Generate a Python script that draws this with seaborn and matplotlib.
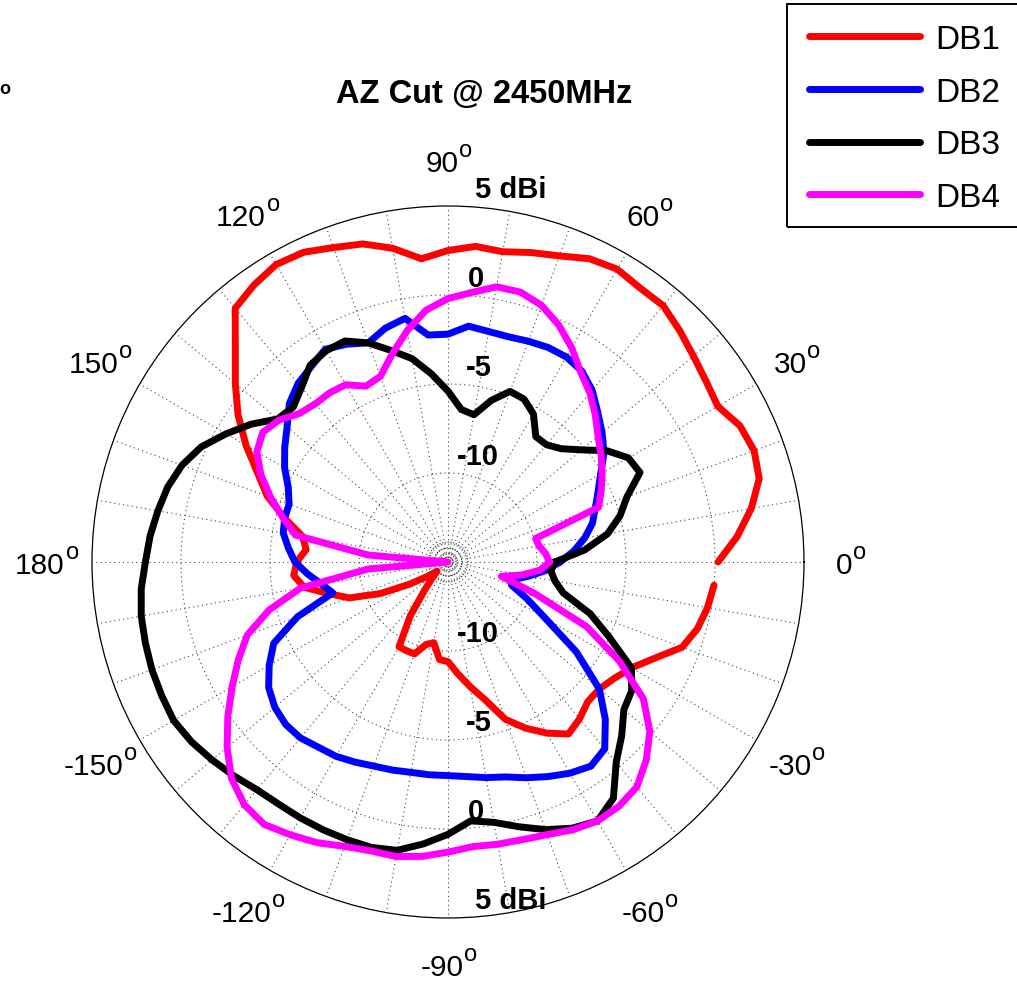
import numpy as np
import pandas as pd
import matplotlib
matplotlib.use("Agg")
import matplotlib.pyplot as plt
from matplotlib.lines import Line2D
from matplotlib.patches import Rectangle
import seaborn as sns

# Azimuth cut, gain in dBi sampled every 5 degrees (0 .. 355)
angles_deg = np.arange(0, 360, 5)

db1 = [0.17, 1.3, 2.3, 3.1, 3.3, 3.1, 2.5, 2.7, 3.0, 3.4,
       3.8, 3.8, 4.0, 3.8, 3.3, 3.0, 2.7, 2.8, 2.5, 2.1,
       2.9, 3.5, 3.8, 4.2, 4.3, 4.0, 3.6, 1.9, 0.6, -0.6,
       -1.9, -3.2, -4.2, -5.5, -6.7, -7.0, -6.5, -6.3, -6.8, -8.1,
       -9.1, -10.8, -12.5, -13.6, -14.2, -13.8, -13.0, -11.3, -9.5, -9.5,
       -9.5, -10.2, -10.4, -9.5, -9.4, -8.7, -7.9, -7.0, -5.6, -4.7,
       -3.9, -3.2, -3.5, -3.9, -3.9, -3.6, -3.1, -2.2, -1.0, -0.5,
       -0.2, 0.0]

db2 = [-8.7, -7.9, -7.2, -6.6, -6.2, -5.7, -5.1, -4.3, -3.7, -3.1,
       -2.4, -1.9, -1.7, -1.7, -1.8, -1.9, -1.85, -1.7, -2.2, -2.2,
       -1.1, -1.4, -1.9, -1.5, -1.2, -1.6, -1.9, -2.4, -3.2, -3.8,
       -4.4, -5.1, -5.5, -5.5, -5.6, -6.0, -6.4, -7.1, -7.8, -8.3,
       -6.0, -4.2, -3.4, -2.7, -2.3, -2.1, -2.1, -2.3, -2.4, -2.6,
       -2.8, -2.9, -3.0, -3.0, -3.0, -2.9, -2.7, -2.5, -2.1, -1.7,
       -1.3, -1.0, -1.3, -2.5, -3.9, -6.2, -8.7, -10.1, -11.2, -11.2,
       -10.4, -9.5]

db3 = [-9.0, -7.3, -5.9, -5.0, -4.3, -3.1, -3.3, -4.1, -5.2, -6.0,
       -6.4, -6.4, -5.4, -4.9, -4.8, -5.6, -6.6, -6.4, -5.4, -4.4,
       -3.4, -2.7, -1.9, -1.3, -1.3, -1.5, -2.2, -2.7, -2.5, -1.5,
       -0.6, 0.3, 0.9, 1.3, 1.55, 1.8, 2.0, 2.3, 2.5, 2.6,
       2.7, 2.75, 2.8, 2.6, 2.3, 2.0, 1.7, 1.6, 1.6, 1.6,
       1.6, 1.6, 1.45, 0.9, 0.3, -0.4, -0.15, 0.4, 1.0, 1.5,
       1.8, 1.2, -0.3, -1.2, -2.1, -2.4, -3.1, -5.0, -6.5, -8.3,
       -8.9, -9.2]

db4 = [-9.3, -9.5, -9.8, -9.9, -6.0, -5.5, -5.0, -4.5, -4.0, -3.3,
       -2.6, -2.0, -1.1, -0.3, 0.35, 0.7, 0.7, 0.2, -0.2, -0.8,
       -1.8, -2.9, -3.9, -4.1, -3.5, -3.4, -3.4, -3.2, -2.6, -2.3,
       -2.6, -3.4, -4.4, -5.4, -6.3, -10.5, -15.0, -10.5, -6.6, -4.6,
       -3.0, -2.0, -1.0, 0.1, 1.2, 2.2, 2.8, 3.0, 2.7, 2.4,
       2.0, 1.8, 1.8, 1.6, 1.3, 1.05, 1.1, 1.15, 1.3, 1.6,
       1.8, 1.75, 1.5, 0.75, -0.2, -1.6, -3.9, -6.4, -9.8, -11.9,
       -10.8, -9.8]

series_names = ["DB1", "DB2", "DB3", "DB4"]
series_values = [db1, db2, db3, db4]
series_colors = {"DB1": "#ff0000", "DB2": "#0000ff", "DB3": "#000000", "DB4": "#ff00ff"}
closed_loop = {"DB1": False, "DB2": True, "DB3": True, "DB4": True}

ring_db = [-10, -5, 0, 5]
ring_labels = ["-10", "-5", "0", "5 dBi"]
angle_ticks = [0, 30, 60, 90, 120, 150, 180, -150, -120, -90, -60, -30]

DB_FLOOR = -15.0      # gain mapped to the pole
DB_TOP = 5.0          # outer circle

sns.set_theme(style="white")
plt.rcParams["font.family"] = ["Liberation Sans", "DejaVu Sans"]
plt.rcParams["text.color"] = "black"

# long-form table for seaborn
rows = []
for name, vals in zip(series_names, series_values):
    th = list(np.deg2rad(angles_deg))
    v = list(vals)
    if closed_loop[name]:
        th.append(2 * np.pi)
        v.append(vals[0])
    for t, g in zip(th, v):
        rows.append({"theta": t, "r": max(g, DB_FLOOR) - DB_FLOOR, "series": name})
df = pd.DataFrame(rows)

W, H = 1017, 987
fig = plt.figure(figsize=(W / 100, H / 100), dpi=100)
cx, cy, R = 448, 563, 356
ax = fig.add_axes([(cx - R) / W, (H - cy - R) / H, 2 * R / W, 2 * R / H],
                  projection="polar")
rmax = DB_TOP - DB_FLOOR
ax.set_ylim(0, rmax)
ax.set_xticks([])
ax.set_yticks([])
ax.grid(False)
ax.set_facecolor("white")
ax.spines["polar"].set_color("black")
ax.spines["polar"].set_linewidth(0.9)

# dotted grid: spokes every 10 degrees, rings every 5 dB, tiny rings at the pole
grid_kw = dict(color="#444444", lw=0.8, linestyle=(0, (1, 3)), zorder=1)
for a in range(0, 360, 10):
    ax.plot([np.deg2rad(a)] * 2, [0, rmax], **grid_kw)
circ = np.linspace(0, 2 * np.pi, 400)
for d in ring_db[:-1]:
    ax.plot(circ, np.full_like(circ, d - DB_FLOOR), **grid_kw)
for rr in [0.45, 0.79, 1.12]:
    ax.plot(circ, np.full_like(circ, rr), color="#222222", lw=0.8,
            linestyle=(0, (1, 1.5)), zorder=1)

sns.lineplot(data=df, x="theta", y="r", hue="series", hue_order=series_names,
             palette=series_colors, sort=False, estimator=None, legend=False,
             linewidth=5.0, ax=ax, zorder=3,
             solid_capstyle="round", solid_joinstyle="round")
ax.set_xlabel("")
ax.set_ylabel("")
ax.set_ylim(0, rmax)

# angle labels with raised "o"
px = 72 / 100.0
lab_r = 402 / R * rmax
for a in angle_ticks:
    t = ax.annotate(str(a), xy=(np.deg2rad(a), lab_r), xytext=(-6 * px, -3 * px),
                    textcoords="offset points", ha="center", va="center",
                    fontsize=21.5, color="black", annotation_clip=False)
    ax.annotate("o", xy=(1, 1), xycoords=t, xytext=(0.5, 10 * px),
                textcoords="offset points", ha="left", va="top",
                fontsize=17, color="black", annotation_clip=False)

# ring labels along the vertical axis
x_off = {"-10": 30, "-5": 31, "0": 28, "5 dBi": 63}
for d, lab in zip(ring_db, ring_labels):
    rr = d - DB_FLOOR
    for ang, dy in [(np.pi / 2, 17), (3 * np.pi / 2, 18)]:
        ax.annotate(lab, xy=(ang, rr), xytext=(x_off[lab] * px, dy * px),
                    textcoords="offset points", ha="center", va="center",
                    fontsize=21, fontweight="bold", color="black",
                    annotation_clip=False)

fig.text(484 / W, 1 - 95 / H, "AZ Cut @ 2450MHz", ha="center", va="center",
         fontsize=23.5, fontweight="bold", color="black")
fig.text(5 / W, 1 - 90 / H, "o", ha="center", va="center",
         fontsize=13, fontweight="bold", color="black")

handles = [Line2D([], [], color=series_colors[n], lw=5.0) for n in series_names]
fig.legend(handles, series_names, loc="upper left",
           bbox_to_anchor=(809 / W, 1 - 25 / H), frameon=False, fontsize=24,
           handlelength=3.33, handletextpad=0.45, labelspacing=0.65,
           borderpad=0, borderaxespad=0, labelcolor="black")
fig.patches.append(Rectangle((787 / W, 1 - 228 / H), (W + 10 - 787) / W, 223 / H,
                             transform=fig.transFigure, fill=False, lw=1.4,
                             ec="black", clip_on=False, zorder=5))

fig.savefig("out.png", dpi=100, facecolor="white")
